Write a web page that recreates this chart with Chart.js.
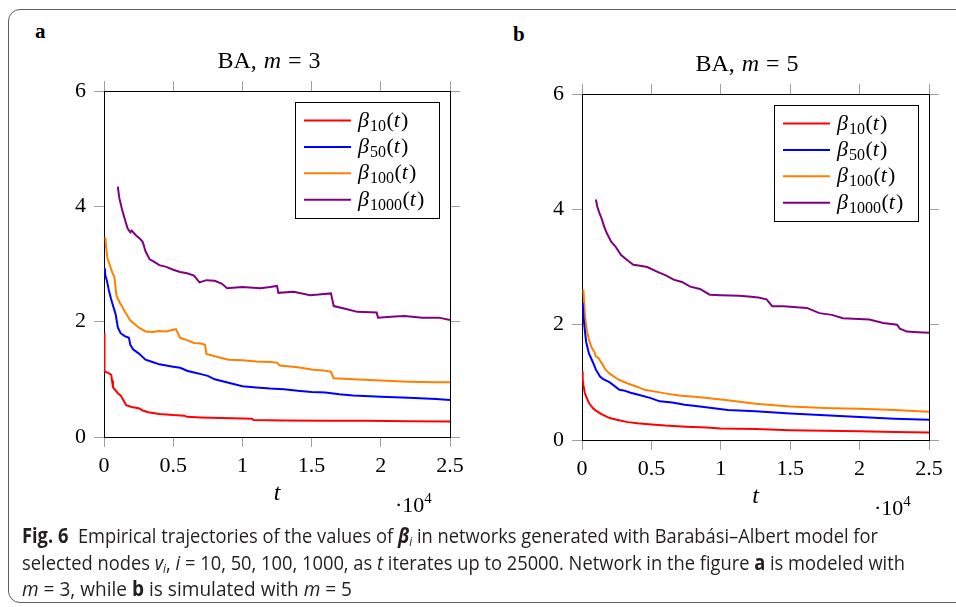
<!DOCTYPE html>
<html>
<head>
<meta charset="utf-8">
<script src="https://cdn.jsdelivr.net/npm/chart.js@4.4.1/dist/chart.umd.min.js"></script>
<style>
  html, body { margin: 0; padding: 0; background: #fff; width: 956px; height: 607px; overflow: hidden; position: relative; }
  #frame { position: absolute; left: 8px; top: 9px; width: 990px; height: 594px; border: 1.5px solid #5c5c5c; border-radius: 12px; box-sizing: border-box; }
  canvas { position: absolute; }
  .panel-tag { position: absolute; font: bold 21px "Liberation Serif", serif; line-height: 21px; color: #000; }
  #caption { position: absolute; left: 22px; top: 522px; font-family: "Liberation Sans Narrow", "Open Sans", sans-serif; font-size: 20.5px; line-height: 26.5px; color: #231f20; }
  #caption .ln { white-space: nowrap; height: 26.5px; }
  #caption .ln span { display: inline-block; transform-origin: 0 50%; }
  #caption sub { font-size: 13px; vertical-align: -3px; line-height: 0; }
</style>
</head>
<body>
<div id="frame"></div>
<div class="panel-tag" style="left:35px; top:21px;">a</div>
<div class="panel-tag" style="left:513px; top:24px;">b</div>
<canvas id="chartA" width="418" height="480" style="left:60px; top:40px;"></canvas>
<canvas id="chartB" width="414" height="480" style="left:540px; top:43px;"></canvas>
<div id="caption">
  <div class="ln" data-w="856"><span><b>Fig. 6</b>&nbsp; Empirical trajectories of the values of <b><i>β</i></b><sub><i>i</i></sub> in networks generated with Barabási–Albert model for</span></div>
  <div class="ln" data-w="883"><span>selected nodes <i>v</i><sub><i>i</i></sub>, <i>i</i> = 10, 50, 100, 1000, as <i>t</i> iterates up to 25000. Network in the figure <b>a</b> is modeled with</span></div>
  <div class="ln" data-w="330"><span><i>m</i> = 3, while <b>b</b> is simulated with <i>m</i> = 5</span></div>
</div>
<script>
// t is in units of 10^4 (axis shows ·10^4)
const nodeIds = ['10', '50', '100', '1000'];
const lineColors = ['#ff0000', '#0000ff', '#ff8000', '#800080'];

// ---- panel a: BA, m = 3 ----
const tRedA = [0.001, 0.002, 0.005, 0.02, 0.04, 0.052, 0.058, 0.065, 0.08, 0.1, 0.12, 0.13, 0.145, 0.16, 0.2, 0.25, 0.28, 0.32, 0.4, 0.5, 0.58, 0.6, 0.7, 0.85, 1.0, 1.07, 1.08, 1.3, 1.6, 1.9, 2.2, 2.5];
const vRedA = [1.80, 1.40, 1.14, 1.12, 1.10, 1.08, 0.98, 0.86, 0.82, 0.76, 0.72, 0.68, 0.62, 0.55, 0.52, 0.50, 0.46, 0.43, 0.40, 0.38, 0.37, 0.35, 0.34, 0.33, 0.32, 0.315, 0.295, 0.285, 0.28, 0.28, 0.275, 0.27];

const tBlueA = [0.005, 0.01, 0.02, 0.035, 0.05, 0.06, 0.075, 0.085, 0.1, 0.12, 0.15, 0.18, 0.19, 0.21, 0.25, 0.3, 0.35, 0.4, 0.45, 0.5, 0.55, 0.6, 0.65, 0.7, 0.75, 0.8, 0.85, 0.9, 1.0, 1.1, 1.2, 1.3, 1.4, 1.5, 1.6, 1.7, 1.8, 2.0, 2.2, 2.4, 2.5];
const vBlueA = [2.93, 2.80, 2.72, 2.55, 2.40, 2.32, 2.20, 2.12, 1.90, 1.80, 1.75, 1.72, 1.60, 1.52, 1.45, 1.34, 1.30, 1.26, 1.24, 1.22, 1.20, 1.15, 1.12, 1.09, 1.06, 1.00, 0.97, 0.94, 0.88, 0.86, 0.84, 0.83, 0.80, 0.78, 0.77, 0.74, 0.72, 0.70, 0.68, 0.66, 0.64];

const tOrangeA = [0.01, 0.015, 0.025, 0.04, 0.06, 0.075, 0.09, 0.11, 0.14, 0.17, 0.19, 0.22, 0.25, 0.3, 0.35, 0.4, 0.45, 0.5, 0.52, 0.55, 0.6, 0.65, 0.7, 0.73, 0.74, 0.8, 0.9, 1.0, 1.1, 1.2, 1.25, 1.27, 1.4, 1.5, 1.6, 1.64, 1.66, 1.8, 2.0, 2.2, 2.4, 2.5];
const vOrangeA = [3.46, 3.30, 3.10, 3.00, 2.85, 2.78, 2.45, 2.35, 2.22, 2.10, 2.02, 1.96, 1.90, 1.83, 1.82, 1.84, 1.83, 1.86, 1.87, 1.72, 1.68, 1.63, 1.62, 1.60, 1.44, 1.40, 1.34, 1.33, 1.31, 1.30, 1.29, 1.24, 1.21, 1.17, 1.15, 1.13, 1.02, 1.00, 0.98, 0.96, 0.95, 0.95];

const tPurpleA = [0.1, 0.11, 0.13, 0.15, 0.17, 0.19, 0.2, 0.23, 0.26, 0.28, 0.3, 0.33, 0.36, 0.4, 0.45, 0.5, 0.55, 0.6, 0.65, 0.69, 0.74, 0.8, 0.85, 0.89, 1.0, 1.13, 1.2, 1.25, 1.26, 1.37, 1.49, 1.55, 1.64, 1.66, 1.75, 1.83, 1.97, 1.98, 2.1, 2.17, 2.3, 2.42, 2.5];
const vPurpleA = [4.34, 4.15, 3.95, 3.78, 3.62, 3.55, 3.58, 3.50, 3.44, 3.38, 3.22, 3.08, 3.04, 2.98, 2.95, 2.90, 2.86, 2.84, 2.80, 2.68, 2.72, 2.71, 2.66, 2.58, 2.60, 2.58, 2.60, 2.62, 2.50, 2.52, 2.46, 2.47, 2.49, 2.27, 2.22, 2.17, 2.16, 2.07, 2.09, 2.10, 2.07, 2.07, 2.03];

// ---- panel b: BA, m = 5 ----
const tRedB = [0.001, 0.005, 0.01, 0.02, 0.03, 0.05, 0.08, 0.1, 0.14, 0.2, 0.25, 0.33, 0.4, 0.5, 0.6, 0.75, 0.9, 1.0, 1.25, 1.5, 1.75, 2.0, 2.25, 2.5];
const vRedB = [1.19, 1.05, 0.95, 0.82, 0.75, 0.64, 0.55, 0.51, 0.45, 0.38, 0.35, 0.31, 0.29, 0.27, 0.25, 0.23, 0.215, 0.20, 0.19, 0.17, 0.16, 0.15, 0.14, 0.13];

const tBlueB = [0.005, 0.01, 0.02, 0.03, 0.05, 0.08, 0.1, 0.13, 0.15, 0.2, 0.27, 0.3, 0.35, 0.4, 0.49, 0.56, 0.65, 0.74, 0.85, 0.95, 1.05, 1.25, 1.5, 1.75, 2.0, 2.25, 2.5];
const vBlueB = [2.38, 2.15, 1.91, 1.70, 1.50, 1.34, 1.22, 1.10, 1.06, 1.00, 0.87, 0.86, 0.82, 0.79, 0.73, 0.67, 0.65, 0.61, 0.58, 0.55, 0.52, 0.50, 0.46, 0.43, 0.40, 0.37, 0.35];

const tOrangeB = [0.01, 0.015, 0.022, 0.035, 0.05, 0.07, 0.09, 0.1, 0.12, 0.14, 0.17, 0.2, 0.26, 0.33, 0.4, 0.45, 0.55, 0.62, 0.7, 0.81, 0.9, 1.05, 1.25, 1.5, 1.8, 2.0, 2.25, 2.5];
const vOrangeB = [2.61, 2.40, 2.14, 1.90, 1.74, 1.60, 1.52, 1.45, 1.42, 1.34, 1.22, 1.15, 1.05, 0.98, 0.92, 0.87, 0.83, 0.80, 0.77, 0.75, 0.73, 0.69, 0.63, 0.58, 0.55, 0.54, 0.52, 0.49];

const tPurpleB = [0.1, 0.11, 0.125, 0.14, 0.16, 0.18, 0.21, 0.24, 0.28, 0.32, 0.37, 0.42, 0.47, 0.54, 0.6, 0.66, 0.72, 0.78, 0.85, 0.92, 1.0, 1.13, 1.2, 1.27, 1.33, 1.37, 1.45, 1.55, 1.62, 1.71, 1.8, 1.88, 2.07, 2.17, 2.27, 2.29, 2.34, 2.42, 2.5];
const vPurpleB = [4.17, 4.05, 3.94, 3.85, 3.70, 3.58, 3.44, 3.36, 3.21, 3.13, 3.04, 3.02, 3.00, 2.92, 2.86, 2.78, 2.74, 2.66, 2.62, 2.52, 2.51, 2.50, 2.49, 2.47, 2.44, 2.32, 2.32, 2.30, 2.29, 2.20, 2.17, 2.11, 2.09, 2.03, 2.00, 1.93, 1.88, 1.87, 1.86];

const xTicks = [0, 0.5, 1, 1.5, 2, 2.5];
const yTicks = [0, 2, 4, 6];

const SERIF = '"Liberation Serif", "Times New Roman", serif';

// draws a run of [text, font, dy, extraGap] pieces on one baseline
function drawRich(ctx, parts, x, y, align) {
  let w = 0;
  for (const p of parts) {
    ctx.font = p[1];
    w += ctx.measureText(p[0]).width + (p[3] || 0);
  }
  let cx = align === 'center' ? x - w / 2 : x;
  for (const p of parts) {
    ctx.font = p[1];
    ctx.fillText(p[0], cx, y + (p[2] || 0));
    cx += ctx.measureText(p[0]).width + (p[3] || 0);
  }
}

const panelTitle = {
  id: 'panelTitle',
  afterDraw(chart, args, opts) {
    const { ctx, chartArea } = chart;
    ctx.save();
    ctx.fillStyle = '#000';
    ctx.textBaseline = 'alphabetic';
    drawRich(ctx, [
      ['BA,', `24px ${SERIF}`, 0, 7],
      ['m', `italic 24px ${SERIF}`, 0, 7],
      ['=', `24px ${SERIF}`, 0, 7],
      [opts.m, `24px ${SERIF}`]
    ], chart.width / 2, chartArea.top - 23, 'center');
    ctx.restore();
  }
};

const boxLegend = {
  id: 'boxLegend',
  afterDraw(chart) {
    const { ctx, chartArea } = chart;
    const w = 144, h = 116;
    const left = Math.round(chartArea.right - 11 - w), top = Math.round(chartArea.top + 11);
    ctx.save();
    ctx.fillStyle = '#fff';
    ctx.fillRect(left, top, w, h);
    ctx.strokeStyle = '#000';
    ctx.lineWidth = 1;
    ctx.strokeRect(left + 0.5, top + 0.5, w, h);
    ctx.textBaseline = 'alphabetic';
    chart.data.datasets.forEach((ds, i) => {
      const y = top + 18.5 + i * 26.4;
      ctx.strokeStyle = ds.borderColor;
      ctx.lineWidth = 2;
      ctx.beginPath();
      ctx.moveTo(left + 9, y);
      ctx.lineTo(left + 56, y);
      ctx.stroke();
      ctx.fillStyle = '#000';
      drawRich(ctx, [
        ['β', `italic 22px ${SERIF}`, 0, 1],
        [nodeIds[i], `16px ${SERIF}`, 4, 0.5],
        ['(', `22px ${SERIF}`],
        ['t', `italic 22px ${SERIF}`, 0, 1],
        [')', `22px ${SERIF}`]
      ], left + 63, y + 6, 'left');
    });
    ctx.restore();
  }
};

const expLabel = {
  id: 'expLabel',
  afterDraw(chart) {
    const { ctx, chartArea } = chart;
    ctx.save();
    ctx.fillStyle = '#000';
    ctx.textBaseline = 'alphabetic';
    drawRich(ctx, [
      ['·10', `22px ${SERIF}`],
      ['4', `15px ${SERIF}`, -9]
    ], chartArea.right - 55, chartArea.bottom + 75, 'left');
    ctx.restore();
  }
};

const tickGrid = {
  drawOnChartArea: false,
  drawTicks: true,
  tickLength: 10,
  color: '#a0a0a0',
  tickColor: '#a0a0a0',
  lineWidth: 1
};
const blackBorder = { display: true, color: '#000', width: 1 };
const tickFont = { family: SERIF, size: 22 };

function makePanel(canvasId, m, seriesT, seriesV, yw, y2w) {
  const ctx = document.getElementById(canvasId).getContext('2d');
  return new Chart(ctx, {
    type: 'line',
    data: {
      datasets: seriesT.map((ts, i) => ({
        label: 'β' + nodeIds[i] + '(t)',
        data: ts.map((t, k) => ({ x: t, y: seriesV[i][k] })),
        borderColor: lineColors[i],
        borderWidth: 2,
        pointRadius: 0,
        tension: 0,
        fill: false
      }))
    },
    options: {
      responsive: false,
      animation: false,
      layout: { padding: { top: 35, left: 0, right: 0, bottom: 0 } },
      plugins: {
        legend: { display: false },
        tooltip: { enabled: false },
        panelTitle: { m: m }
      },
      scales: {
        x: {
          type: 'linear', position: 'bottom', min: 0, max: 2.5,
          afterBuildTicks: s => { s.ticks = xTicks.map(v => ({ value: v })); },
          ticks: { font: tickFont, color: '#000', padding: 6, maxRotation: 0, autoSkip: false, callback: v => String(v) },
          grid: tickGrid,
          border: blackBorder,
          title: { display: true, text: 't', color: '#000', font: { family: SERIF, size: 24, style: 'italic' }, padding: { top: 0, bottom: 12 } },
          afterFit: s => { s.height = 83; }
        },
        x2: {
          type: 'linear', position: 'top', min: 0, max: 2.5,
          afterBuildTicks: s => { s.ticks = xTicks.map(v => ({ value: v })); },
          ticks: { display: false },
          grid: tickGrid,
          border: blackBorder,
          afterFit: s => { s.height = 16; }
        },
        y: {
          type: 'linear', position: 'left', min: 0, max: 6,
          afterBuildTicks: s => { s.ticks = yTicks.map(v => ({ value: v })); },
          ticks: { font: tickFont, color: '#000', padding: 8, callback: v => String(v) },
          grid: tickGrid,
          border: blackBorder,
          afterFit: s => { s.width = yw; }
        },
        y2: {
          type: 'linear', position: 'right', min: 0, max: 6,
          afterBuildTicks: s => { s.ticks = yTicks.map(v => ({ value: v })); },
          ticks: { display: false },
          grid: tickGrid,
          border: blackBorder,
          afterFit: s => { s.width = y2w; }
        }
      }
    },
    plugins: [panelTitle, boxLegend, expLabel]
  });
}

makePanel('chartA', '3',
  [tRedA, tBlueA, tOrangeA, tPurpleA],
  [vRedA, vBlueA, vOrangeA, vPurpleA], 44, 28);
makePanel('chartB', '5',
  [tRedB, tBlueB, tOrangeB, tPurpleB],
  [vRedB, vBlueB, vOrangeB, vPurpleB], 42, 25);

// squeeze each caption line to the width it has in the figure
document.querySelectorAll('#caption .ln').forEach(ln => {
  const span = ln.querySelector('span');
  const target = Number(ln.dataset.w);
  const natural = span.getBoundingClientRect().width;
  if (natural > 0) span.style.transform = `scaleX(${target / natural})`;
});
</script>
</body>
</html>
